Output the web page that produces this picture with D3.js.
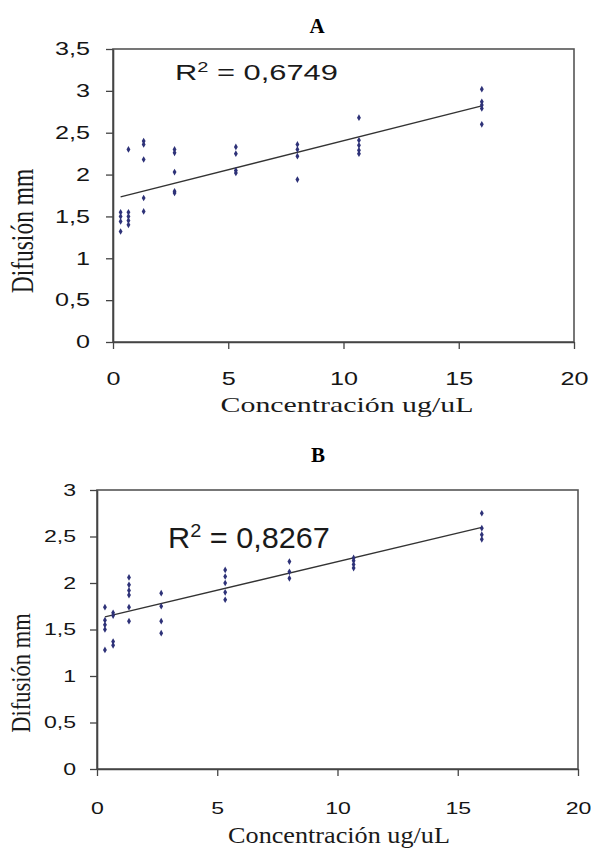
<!DOCTYPE html>
<html>
<head>
<meta charset="utf-8">
<script src="https://cdn.jsdelivr.net/npm/d3@7"></script>
<style>
  body { margin: 0; background: #fff; }
  svg { display: block; }
  .tick text { font-family: "Liberation Sans", Arial, sans-serif; fill: #151515; }
  .tick line, .domain { stroke: #444; }
</style>
</head>
<body>
<svg width="591" height="849"></svg>
<script>
// concentraciones (ug/uL) de la serie de diluciones
var concentraciones = [0.33, 0.67, 1.33, 2.67, 5.33, 8, 10.67, 16];

// difusion (mm), una lista por concentracion
var difusionA = [
  [1.55, 1.5, 1.44, 1.32],
  [2.3, 1.55, 1.5, 1.45, 1.4],
  [2.4, 2.36, 2.18, 1.72, 1.56],
  [2.3, 2.26, 2.03, 1.8, 1.78],
  [2.33, 2.25, 2.05, 2.02],
  [2.36, 2.3, 2.22, 1.94],
  [2.68, 2.41, 2.35, 2.29, 2.25],
  [3.02, 2.87, 2.83, 2.79, 2.6]
];
var difusionB = [
  [1.74, 1.6, 1.55, 1.5, 1.28],
  [1.68, 1.65, 1.37, 1.33],
  [2.06, 1.98, 1.92, 1.87, 1.74, 1.59],
  [1.89, 1.75, 1.59, 1.46],
  [2.14, 2.07, 2.0, 1.9, 1.82],
  [2.23, 2.12, 2.05],
  [2.27, 2.24, 2.2, 2.16],
  [2.75, 2.59, 2.52, 2.47]
];

// linea de tendencia: [intercepto, pendiente]
var tendenciaA = [1.71, 0.0695];
var tendenciaB = [1.615, 0.0615];
var r2A = "0,6749";
var r2B = "0,8267";

var xTicks = [0, 5, 10, 15, 20];
var yTicksA = [0, 0.5, 1, 1.5, 2, 2.5, 3, 3.5];
var yTicksB = [0, 0.5, 1, 1.5, 2, 2.5, 3];

var svg = d3.select("svg");

drawPanel({
  title: "A", titleX: 317, titleY: 33,
  left: 113, right: 574, top: 49, bottom: 342, yMax: 3.5,
  yTicks: yTicksA, data: difusionA, trend: tendenciaA, r2: r2A,
  tickFont: 18, tickPadY: 16, tickPadX: 23,
  r2X: 175, r2Y: 80, r2Font: 22, r2W: 163,
  xlabX: 347, xlabY: 412, xlabFont: 22, xlabW: 253,
  ylabX: 33, ylabY: 231, ylabFont: 23.5, ylabS: 1.3
});

drawPanel({
  title: "B", titleX: 318, titleY: 462,
  left: 97, right: 578, top: 490, bottom: 769, yMax: 3,
  yTicks: yTicksB, data: difusionB, trend: tendenciaB, r2: r2B,
  tickFont: 16.5, tickPadY: 14, tickPadX: 26,
  r2X: 168, r2Y: 548, r2Font: 29, r2W: 162,
  xlabX: 339, xlabY: 843, xlabFont: 23, xlabW: 222,
  ylabX: 30, ylabY: 673, ylabFont: 22.5, ylabS: 1.2
});

function drawPanel(p) {
  var x = d3.scaleLinear().domain([0, 20]).range([p.left, p.right]);
  var y = d3.scaleLinear().domain([0, p.yMax]).range([p.bottom, p.top]);
  var fmt = function(d) { return String(d).replace(".", ","); };

  var g = svg.append("g");

  // marco del area de trazado
  g.append("rect")
    .attr("x", p.left).attr("y", p.top)
    .attr("width", p.right - p.left).attr("height", p.bottom - p.top)
    .attr("fill", "none").attr("stroke", "#555").attr("stroke-width", 1.6);

  var ya = g.append("g")
    .attr("transform", "translate(" + p.left + ",0)")
    .call(d3.axisLeft(y).tickValues(p.yTicks).tickFormat(fmt).tickSize(7).tickSizeOuter(0).tickPadding(p.tickPadY));
  var xa = g.append("g")
    .attr("transform", "translate(0," + p.bottom + ")")
    .call(d3.axisBottom(x).tickValues(xTicks).tickSize(7).tickSizeOuter(0).tickPadding(p.tickPadX));

  [ya, xa].forEach(function(a) {
    a.select(".domain").attr("stroke-width", 1.6);
    a.selectAll(".tick line").attr("stroke-width", 1.3);
    a.selectAll(".tick text")
      .attr("font-size", p.tickFont)
      .attr("transform", function() {
        var tx = +this.getAttribute("x") || 0;
        return "translate(" + tx + ",0) scale(1.4,1)";
      })
      .attr("x", 0);
  });

  // linea de tendencia
  var x0 = d3.min(concentraciones), x1 = d3.max(concentraciones);
  g.append("line")
    .attr("x1", x(x0)).attr("y1", y(p.trend[0] + p.trend[1] * x0))
    .attr("x2", x(x1)).attr("y2", y(p.trend[0] + p.trend[1] * x1))
    .attr("stroke", "#333").attr("stroke-width", 1.3);

  // puntos
  var pts = [];
  p.data.forEach(function(vals, i) {
    vals.forEach(function(v) { pts.push({c: concentraciones[i], v: v}); });
  });
  g.append("g").selectAll("path")
    .data(pts)
    .enter().append("path")
      .attr("d", d3.symbol().type(d3.symbolDiamond).size(13))
      .attr("transform", function(d) { return "translate(" + x(d.c) + "," + y(d.v) + ")"; })
      .attr("fill", "#2e3278");

  // R^2
  var r2 = g.append("text")
    .attr("font-family", "'Liberation Sans', Arial, sans-serif")
    .attr("font-size", p.r2Font).attr("fill", "#1a1a1a");
  r2.append("tspan").text("R");
  r2.append("tspan").attr("font-size", p.r2Font * 0.65).attr("dy", -p.r2Font * 0.38).text("2");
  r2.append("tspan").attr("dy", p.r2Font * 0.38).text(" = " + p.r2);
  stretch(r2, p.r2X, p.r2Y, p.r2W);

  // titulo del panel
  g.append("text")
    .attr("x", p.titleX).attr("y", p.titleY)
    .attr("text-anchor", "middle")
    .attr("font-family", "'Liberation Serif', 'Times New Roman', serif")
    .attr("font-weight", "bold").attr("font-size", 21)
    .text(p.title);

  // titulos de ejes
  var xl = g.append("text")
    .attr("text-anchor", "middle")
    .attr("font-family", "'Liberation Serif', 'Times New Roman', serif")
    .attr("font-size", p.xlabFont).attr("fill", "#1a1a1a")
    .text("Concentración ug/uL");
  stretch(xl, p.xlabX, p.xlabY, p.xlabW);

  g.append("text")
    .attr("text-anchor", "middle")
    .attr("font-family", "'Liberation Serif', 'Times New Roman', serif")
    .attr("font-size", p.ylabFont).attr("fill", "#1a1a1a")
    .attr("transform", "translate(" + p.ylabX + "," + p.ylabY + ") scale(" + p.ylabS + ",1) rotate(-90)")
    .text("Difusión mm");
}

function stretch(sel, tx, ty, width) {
  var w = sel.node().getBBox().width;
  sel.attr("transform", "translate(" + tx + "," + ty + ") scale(" + (width / w) + ",1)");
}
</script>
</body>
</html>
